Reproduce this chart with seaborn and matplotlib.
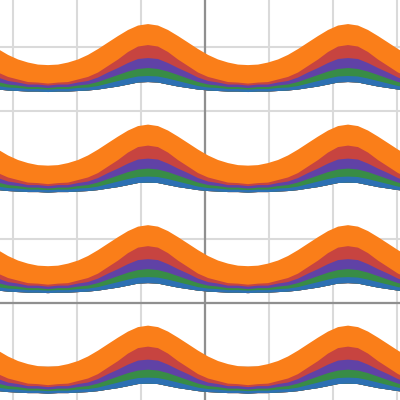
import numpy as np
import matplotlib
matplotlib.use("Agg")
import matplotlib.pyplot as plt
import seaborn as sns

# half of one wave, measured from the crest outwards (x offset in grid units)
half_offset = [0, 0.156, 0.313, 0.469, 0.625, 0.781, 0.938, 1.094, 1.25, 1.406, 1.563]
# bottom edge of the top band
half_base = [3.445, 3.438, 3.406, 3.375, 3.352, 3.328, 3.313, 3.305, 3.297, 3.297, 3.289]
# layer thicknesses, bottom to top
half_blue = [0.094, 0.094, 0.094, 0.086, 0.070, 0.055, 0.047, 0.047, 0.039, 0.039, 0.039]
half_green = [0.125, 0.117, 0.109, 0.094, 0.078, 0.063, 0.047, 0.039, 0.031, 0.031, 0.023]
half_purple = [0.156, 0.156, 0.133, 0.109, 0.094, 0.070, 0.055, 0.047, 0.039, 0.039, 0.039]
half_red = [0.203, 0.195, 0.172, 0.133, 0.102, 0.078, 0.063, 0.047, 0.039, 0.031, 0.031]
half_orange = [0.328, 0.328, 0.344, 0.367, 0.367, 0.367, 0.344, 0.313, 0.305, 0.281, 0.289]

crests = [-4.015, -0.89, 2.235]          # crest positions along x
band_shift = [0, -1.571, -3.142, -4.712]  # vertical position of each band
colors = ['#2d70b3', '#388c46', '#6042a6', '#c74440', '#fa7e19']


def full_wave(h):
    h = np.asarray(h, dtype=float)
    return np.concatenate([h[:0:-1], h])


offs = np.concatenate([-np.asarray(half_offset)[:0:-1], half_offset])
x = np.concatenate([c + offs for c in crests])
base = np.tile(full_wave(half_base), len(crests))
layers = [np.tile(full_wave(h), len(crests))
          for h in [half_blue, half_green, half_purple, half_red, half_orange]]
tops = np.cumsum(layers, axis=0)

sns.set_theme(style="whitegrid")
fig = plt.figure(figsize=(4, 4), dpi=100)
ax = fig.add_axes([0, 0, 1, 1])

for shift in band_shift:
    # draw from the top layer down so the layers overlap without seams
    for i in range(len(layers) - 1, -1, -1):
        ax.fill_between(x, base + shift, base + shift + tops[i],
                        color=colors[i], lw=0, zorder=3)

ax.axhline(0, color='#8f8f8f', lw=1.6, zorder=2)
ax.axvline(0, color='#8f8f8f', lw=1.6, zorder=2)

ax.set_xlim(-3.203, 3.047)
ax.set_ylim(-1.523, 4.727)
ax.set_xticks(range(-3, 4))
ax.set_yticks(range(-1, 5))
ax.grid(True, color='#dadada', lw=1.5, zorder=1)
ax.set_axisbelow(True)
ax.tick_params(length=0, labelbottom=False, labelleft=False)
for s in ax.spines.values():
    s.set_visible(False)

fig.savefig("out.png", dpi=100)
